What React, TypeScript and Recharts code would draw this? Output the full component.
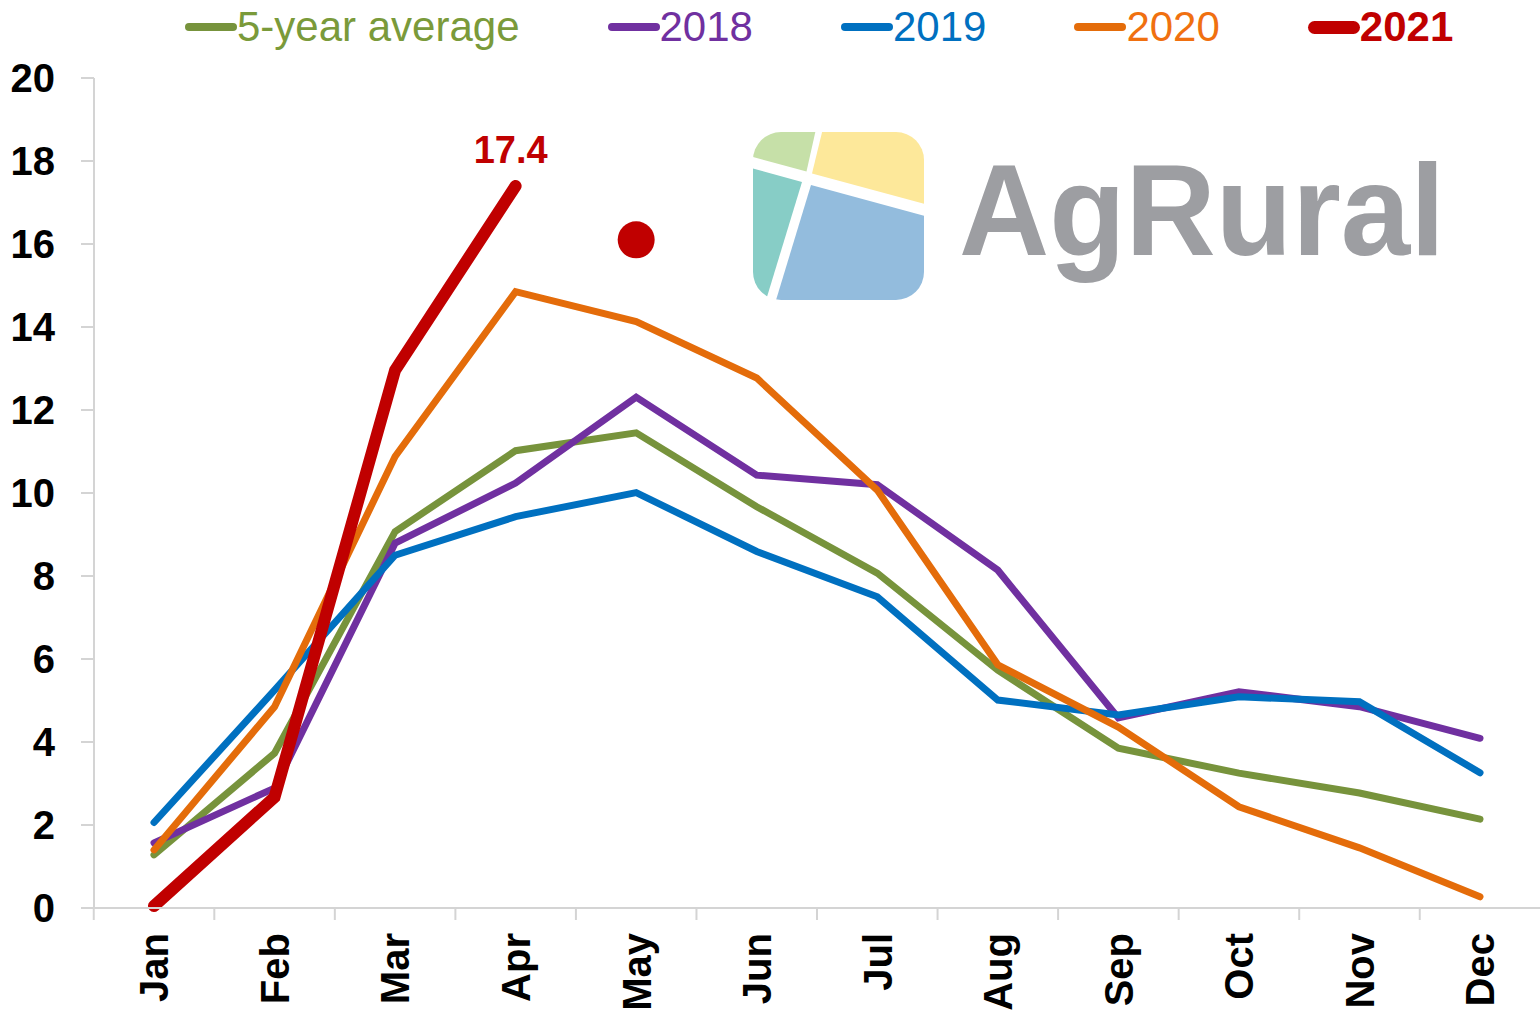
import React from "react";
import {
  LineChart,
  Line,
  XAxis,
  YAxis,
  Legend,
  LabelList,
} from "recharts";

const months = ["Jan", "Feb", "Mar", "Apr", "May", "Jun", "Jul", "Aug", "Sep", "Oct", "Nov", "Dec"];
const avg5 = [1.28, 3.73, 9.07, 11.02, 11.45, 9.67, 8.07, 5.73, 3.85, 3.25, 2.77, 2.14];
const y2018 = [1.57, 2.89, 8.79, 10.24, 12.31, 10.43, 10.2, 8.14, 4.58, 5.21, 4.85, 4.09];
const y2019 = [2.06, 5.25, 8.5, 9.43, 10.01, 8.59, 7.5, 5.01, 4.65, 5.09, 4.97, 3.26];
const y2020 = [1.4, 4.85, 10.88, 14.85, 14.13, 12.77, 10.07, 5.86, 4.36, 2.44, 1.45, 0.27];
const y2021 = [0.05, 2.67, 12.96, 17.4, null, null, null, null, null, null, null, null];
const forecast2021 = [null, null, null, null, 16.1, null, null, null, null, null, null, null];
const yTicks = [0, 2, 4, 6, 8, 10, 12, 14, 16, 18, 20];

const series = [
  { key: "avg", name: "5-year average", color: "#77933c", text: "#7a9a3a", width: 7, bold: false },
  { key: "y2018", name: "2018", color: "#7030a0", text: "#7030a0", width: 7, bold: false },
  { key: "y2019", name: "2019", color: "#0070c0", text: "#0070c0", width: 7, bold: false },
  { key: "y2020", name: "2020", color: "#e46c0a", text: "#f07010", width: 7, bold: false },
  { key: "y2021", name: "2021", color: "#c00000", text: "#c00000", width: 12, bold: true },
];

const data = months.map((m, i) => ({
  month: m,
  avg: avg5[i],
  y2018: y2018[i],
  y2019: y2019[i],
  y2020: y2020[i],
  y2021: y2021[i],
  forecast: forecast2021[i],
}));

const FONT = '"Liberation Sans", Arial, sans-serif';
const AXIS = "#d4d4d4";

const XTick = (props: any) => {
  const { x, y, payload, width, visibleTicksCount } = props;
  const band = width && visibleTicksCount ? width / visibleTicksCount : 120.5;
  const left = x - band / 2;
  const ly = y + 25;
  return (
    <g>
      <line x1={left} x2={left} y1={y} y2={y + 12} stroke={AXIS} strokeWidth={2} />
      <text
        x={x}
        y={ly}
        transform={`rotate(-90, ${x}, ${ly})`}
        textAnchor="end"
        dy="0.36em"
        fontFamily={FONT}
        fontWeight="bold"
        fontSize={40}
        fill="#000"
      >
        {payload.value}
      </text>
    </g>
  );
};

const renderLegend = () => (
  <div
    style={{
      display: "flex",
      alignItems: "center",
      height: 54,
      paddingLeft: 185,
      gap: 88,
      fontFamily: FONT,
      fontSize: 42,
    }}
  >
    {series.map((s) => (
      <div key={s.key} style={{ display: "flex", alignItems: "center" }}>
        <span
          style={{
            display: "inline-block",
            width: 52,
            height: s.bold ? 13 : 8,
            borderRadius: 7,
            background: s.color,
          }}
        />
        <span style={{ color: s.text, fontWeight: s.bold ? "bold" : "normal", lineHeight: "54px" }}>
          {s.name}
        </span>
      </div>
    ))}
  </div>
);

const PeakLabel = (props: any) => {
  const { x, y, value, index } = props;
  if (index !== 3 || value == null) return null;
  return (
    <text x={x - 5} y={y - 23} textAnchor="middle" fontFamily={FONT} fontWeight="bold" fontSize={38} fill="#c00000">
      {value}
    </text>
  );
};

const Logo = () => (
  <svg width={1540} height={1010} style={{ position: "absolute", left: 0, top: 0 }}>
    <defs>
      <clipPath id="logoClip">
        <rect x={753} y={132} width={171} height={168} rx={28} />
      </clipPath>
    </defs>
    <g clipPath="url(#logoClip)">
      <polygon points="740,120 818,120 806.5,171.5 740,153.4" fill="#c6e0a8" />
      <polygon points="825,120 940,120 940,208 812,173.5" fill="#fde89a" />
      <polygon points="740,165 802,182 763,310 740,310" fill="#87cdc6" />
      <polygon points="811,185 940,220 940,310 773,310" fill="#93bcdd" />
    </g>
    <text
      x={959}
      y={255}
      fontFamily={FONT}
      fontWeight="bold"
      fontSize={130}
      fill="#9d9ea2"
      textLength={486}
      lengthAdjust="spacingAndGlyphs"
    >
      AgRural
    </text>
  </svg>
);

export default function App() {
  return (
    <div style={{ position: "absolute", left: 0, top: 0, width: 1540, height: 1010, background: "#fff" }}>
      <Logo />
      <div style={{ position: "absolute", left: 0, top: 0 }}>
        <LineChart width={1540} height={1010} data={data} margin={{ top: 24, right: 0, left: 0, bottom: 0 }}>
          <Legend
            verticalAlign="top"
            align="left"
            content={renderLegend}
            wrapperStyle={{ top: 0, left: 0, width: 1540, height: 54 }}
          />
          <XAxis
            dataKey="month"
            height={102}
            padding={{ left: 60, right: 60 }}
            axisLine={{ stroke: AXIS, strokeWidth: 2 }}
            tickLine={false}
            tickSize={0}
            tickMargin={0}
            interval={0}
            tick={<XTick />}
          />
          <YAxis
            width={94}
            domain={[0, 20]}
            ticks={yTicks}
            interval={0}
            axisLine={{ stroke: AXIS, strokeWidth: 2 }}
            tickLine={{ stroke: AXIS, strokeWidth: 2 }}
            tickSize={13}
            tickMargin={26}
            tick={{ fill: "#000", fontSize: 40, fontWeight: "bold", fontFamily: FONT }}
          />
          {series.map((s) => (
            <Line
              key={s.key}
              dataKey={s.key}
              name={s.name}
              type="linear"
              stroke={s.color}
              strokeWidth={s.width}
              strokeLinecap="round"
              dot={false}
              activeDot={false}
              isAnimationActive={false}
            >
              {s.key === "y2021" && <LabelList dataKey="y2021" content={<PeakLabel />} />}
            </Line>
          ))}
          <Line
            dataKey="forecast"
            name="2021 forecast"
            legendType="none"
            stroke="none"
            dot={{ r: 18.5, fill: "#c00000", stroke: "none" }}
            activeDot={false}
            isAnimationActive={false}
          />
        </LineChart>
      </div>
    </div>
  );
}
